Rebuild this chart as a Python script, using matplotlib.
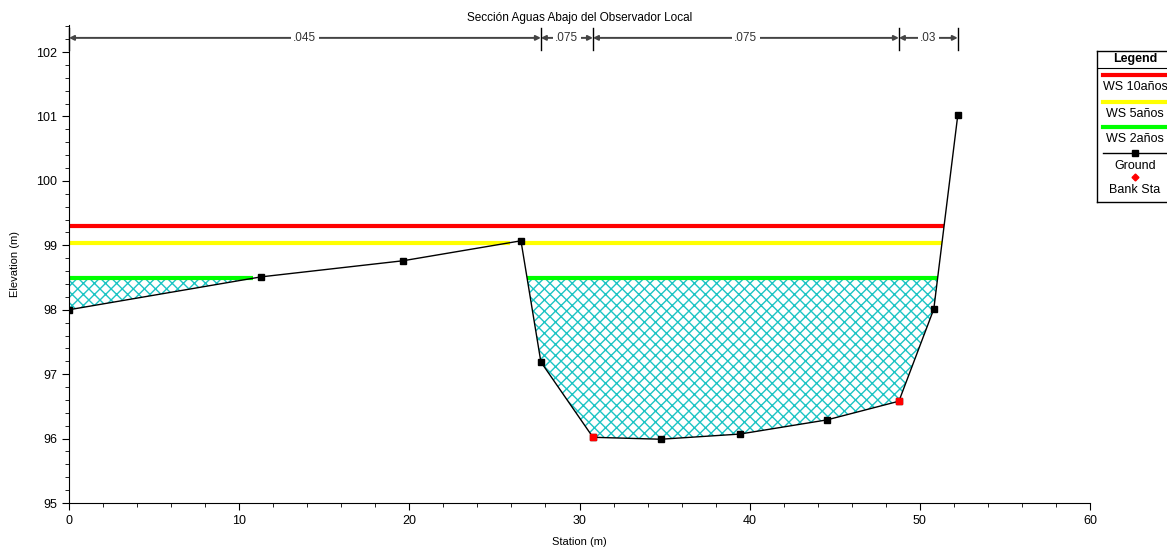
import numpy as np
import matplotlib
matplotlib.use('Agg')
import matplotlib.pyplot as plt
from matplotlib.ticker import MultipleLocator

plt.rcParams['font.family'] = ['Liberation Sans', 'DejaVu Sans']
plt.rcParams['hatch.linewidth'] = 1.0

# ground profile
station = [0.0, 11.28, 19.62, 26.56, 27.73, 30.79, 34.78, 39.42, 44.54, 48.77, 50.82, 52.23]
elevation = [98.0, 98.51, 98.76, 99.07, 97.19, 96.02, 95.99, 96.07, 96.29, 96.58, 98.01, 101.02]
bank_idx = [5, 9]

# water surfaces
ws_names = ['WS 10años', 'WS 5años', 'WS 2años']
ws_levels = [99.30, 99.04, 98.49]
ws_colors = ['#ff0000', '#ffff00', '#00ff00']

# manning n regions
n_values = ['.045', '.075', '.075', '.03']
n_bounds_idx = [0, 4, 5, 9, 11]

st = np.array(station)
el = np.array(elevation)


def wet_segments(level):
    # pieces of the section where the ground lies below the level
    segs = []
    start = st[0] if el[0] < level else None
    for i in range(len(st) - 1):
        a, b = el[i] - level, el[i + 1] - level
        if a < 0 <= b or a >= 0 > b:
            xc = st[i] + (level - el[i]) / (el[i + 1] - el[i]) * (st[i + 1] - st[i])
            if start is None:
                start = xc
            else:
                segs.append((start, xc))
                start = None
    if start is not None:
        segs.append((start, st[-1]))
    return segs


fig = plt.figure(figsize=(11.67, 5.47), dpi=100)
ax = fig.add_axes([69 / 1167, 1 - 503 / 547, (1090 - 69) / 1167, (503 - 25) / 547])

# hatched wet area for the lowest profile
lev = ws_levels[2]
xd = np.linspace(st[0], st[-1], 4000)
gd = np.interp(xd, st, el)
ax.fill_between(xd, gd, lev, where=gd < lev, facecolor='white', edgecolor='#1cc4c4',
                hatch='xxx', linewidth=0, zorder=1)

for name, level, col in zip(ws_names, ws_levels, ws_colors):
    for x0, x1 in wet_segments(level):
        ax.plot([x0, x1], [level, level], color=col, lw=3, solid_capstyle='butt', zorder=2)

ax.plot(st, el, color='black', lw=1, marker='s', ms=4, mfc='black', mec='black', zorder=3)
ax.plot(st[bank_idx], el[bank_idx], ls='none', marker='s', ms=4, mfc='red', mec='red', zorder=4)

ax.set_xlim(0, 60)
ax.set_ylim(95, 102.42)
ax.xaxis.set_major_locator(MultipleLocator(10))
ax.xaxis.set_minor_locator(MultipleLocator(2))
ax.yaxis.set_major_locator(MultipleLocator(1))
ax.yaxis.set_minor_locator(MultipleLocator(0.2))
ax.spines['top'].set_visible(False)
ax.spines['right'].set_visible(False)
ax.tick_params(which='major', length=5, labelsize=9)
ax.tick_params(which='minor', length=3)
ax.set_xlabel('Station (m)', fontsize=8, labelpad=7)
ax.set_ylabel('Elevation (m)', fontsize=8, labelpad=12)
ax.set_title('Sección Aguas Abajo del Observador Local', fontsize=8.5, pad=3)

# manning n dimension lines
ytop = 102.22
for i in range(len(n_values)):
    x0 = st[n_bounds_idx[i]]
    x1 = st[n_bounds_idx[i + 1]]
    ax.annotate('', xy=(x0, ytop), xytext=(x1, ytop), annotation_clip=False,
                arrowprops=dict(arrowstyle='<|-|>', color='#444444', lw=1.4,
                                mutation_scale=7, shrinkA=0, shrinkB=0))
    ax.text((x0 + x1) / 2, ytop, n_values[i], ha='center', va='center', fontsize=8.5,
            color='#333333', bbox=dict(facecolor='white', edgecolor='none', pad=1.5),
            clip_on=False, zorder=5)
for j in n_bounds_idx:
    ax.plot([st[j], st[j]], [102.03, 102.38], color='black', lw=1, clip_on=False)

# legend box (drawn in pixel-like units)
lax = fig.add_axes([1097 / 1167, 1 - 202 / 547, 80 / 1167, 151 / 547])
lax.set_xlim(1097, 1177)
lax.set_ylim(202, 51)
lax.set_xticks([])
lax.set_yticks([])
for s in lax.spines.values():
    s.set_linewidth(1)
cx = 1135
lax.text(cx, 59, 'Legend', ha='center', va='center', fontsize=9, fontweight='bold')
lax.axhline(68, color='black', lw=0.8)
rows = [75, 102, 127]
for y, name, col in zip(rows, ws_names, ws_colors):
    lax.plot([1103, 1177], [y, y], color=col, lw=3)
    lax.text(cx, y + 12, name, ha='center', va='center', fontsize=9)
lax.plot([1103, 1177], [153, 153], color='black', lw=1)
lax.plot([cx], [153], marker='s', ms=4, color='black')
lax.text(cx, 166, 'Ground', ha='center', va='center', fontsize=9)
lax.plot([cx], [177], marker='D', ms=3.5, color='red')
lax.text(cx, 190, 'Bank Sta', ha='center', va='center', fontsize=9)

fig.savefig('out.png', dpi=100)
